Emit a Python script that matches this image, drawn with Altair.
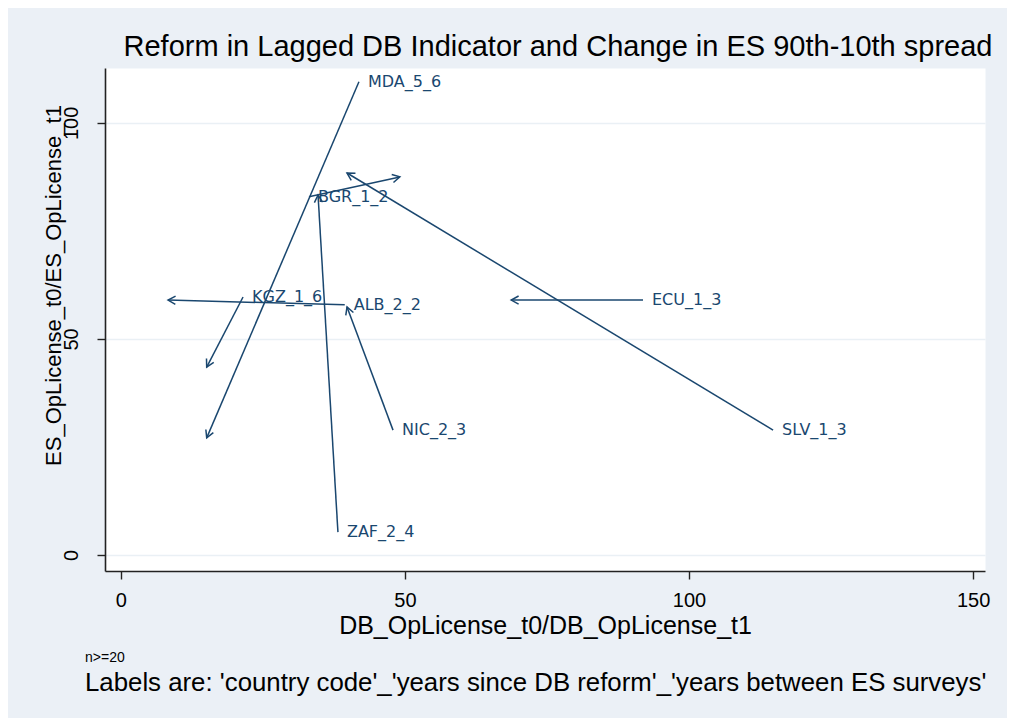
import math
import altair as alt
import pandas as pd

# ---- data ----
labels = ["MDA_5_6", "BGR_1_2", "KGZ_1_6", "ALB_2_2", "ECU_1_3", "NIC_2_3", "SLV_1_3", "ZAF_2_4"]
db_t0 = [41.9, 33.1, 21.5, 39.4, 91.9, 47.9, 114.8, 38.2]   # arrow start x
es_t0 = [109.5, 82.9, 59.7, 57.9, 59.0, 28.9, 28.9, 5.3]    # arrow start y
db_t1 = [15.1, 49.1, 15.1, 8.3, 68.7, 39.8, 39.8, 34.7]     # arrow end x
es_t1 = [27.1, 87.5, 43.5, 59.0, 59.0, 57.4, 88.4, 83.3]    # arrow end y

x_ticks = [0, 50, 100, 150]
y_ticks = [0, 50, 100]
x_domain = [-2.8, 152.1]
y_domain = [-3.7, 112.7]

title_text = "Reform in Lagged DB Indicator and Change in ES 90th-10th spread"
x_title = "DB_OpLicense_t0/DB_OpLicense_t1"
y_title = "ES_OpLicense_t0/ES_OpLicense_t1"
note1 = "n>=20"
note2 = "Labels are: 'country code'_'years since DB reform'_'years between ES surveys'"

W, H = 880, 503
NAVY = "#1A476F"
BG = "#EBF0F6"
GRID = "#EAF0F5"
FONT = "Liberation Sans"

df = pd.DataFrame({"label": labels, "x0": db_t0, "y0": es_t0, "x1": db_t1, "y1": es_t1})
# arrowhead direction in screen space, from scales' pixel-per-unit
kx = W / (x_domain[1] - x_domain[0])
ky = H / (y_domain[1] - y_domain[0])
df["angle"] = [
    math.degrees(math.atan2(-(b1 - b0) * ky, (a1 - a0) * kx)) % 360
    for a0, b0, a1, b1 in zip(df.x0, df.y0, df.x1, df.y1)
]

xs = alt.Scale(domain=x_domain, nice=False, zero=False)
ys = alt.Scale(domain=y_domain, nice=False, zero=False)

xax = alt.Axis(values=x_ticks, grid=False, title=x_title, titleFontSize=25, titleFont=FONT,
               titleFontWeight="normal", titleColor="black", titleY=42, titleBaseline="top",
               labelFontSize=20, labelFont=FONT, labelColor="black", labelPadding=11,
               tickSize=8, tickColor="#222", domainColor="#222", domainWidth=1.6, tickWidth=1.4,
               labelFlush=False)
yax = alt.Axis(values=y_ticks, grid=True, gridColor=GRID, gridWidth=1.5, title=y_title,
               titleFontSize=22, titleFont=FONT, titleFontWeight="normal", titleColor="black",
               titleAngle=270, titleX=-52, titleY=217, titleAlign="center", titleBaseline="middle",
               labelAngle=270, labelAlign="center", labelBaseline="bottom", labelFontSize=20,
               labelFont=FONT, labelColor="black", labelPadding=16, tickSize=8, tickColor="#222",
               domainColor="#222", domainWidth=1.6, tickWidth=1.4, labelFlush=False)

base = alt.Chart(df)

shafts = base.mark_rule(color=NAVY, strokeWidth=1.5).encode(
    x=alt.X("x0:Q", scale=xs, axis=xax),
    y=alt.Y("y0:Q", scale=ys, axis=yax),
    x2="x1:Q",
    y2="y1:Q",
)

heads = base.mark_point(
    shape="M-1,-0.55L0,0L-1,0.55", filled=False, color=NAVY, strokeWidth=1.5, size=220, opacity=1
).encode(
    x=alt.X("x1:Q", scale=xs),
    y=alt.Y("y1:Q", scale=ys),
    angle=alt.Angle("angle:Q", scale=None),
)

texts = base.mark_text(align="left", baseline="middle", dx=9, fontSize=16,
                       font="DejaVu Sans", color=NAVY).encode(
    x=alt.X("x0:Q", scale=xs),
    y=alt.Y("y0:Q", scale=ys),
    text="label:N",
)

n1 = alt.Chart(pd.DataFrame({"t": [note1]})).mark_text(
    align="left", baseline="middle", fontSize=14, font=FONT, color="black"
).encode(x=alt.value(-20), y=alt.value(590), text="t:N")

n2 = alt.Chart(pd.DataFrame({"t": [note2]})).mark_text(
    align="left", baseline="middle", fontSize=25.8, font=FONT, color="black"
).encode(x=alt.value(-20), y=alt.value(615), text="t:N")

chart = alt.layer(shafts, heads, texts, n1, n2).properties(
    width=W,
    height=H,
    padding={"left": 97, "top": 60, "right": 22, "bottom": 147},
    autosize=alt.AutoSizeParams(type="none"),
    title=alt.TitleParams(text=title_text, fontSize=29, font=FONT, fontWeight="normal",
                          color="black", anchor="middle", baseline="bottom", offset=5,
                          dx=13, dy=28),
).configure(background=BG).configure_view(fill="white", stroke="transparent")

chart.save("out.html", embed_options={"renderer": "svg", "actions": False})
